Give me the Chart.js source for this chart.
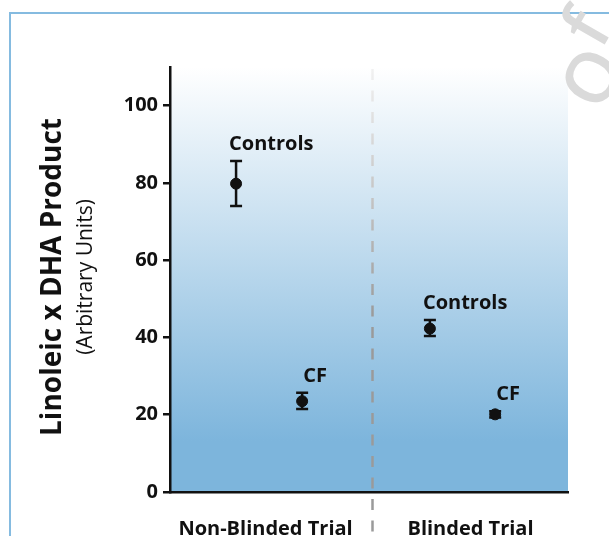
<!DOCTYPE html>
<html lang="en">
<head>
    <meta charset="UTF-8">
    <title>Linoleic x DHA Product</title>
    <style>
        html, body {margin: 0; padding: 0; background: #fff;}
        #myChart {display: block;}
    </style>
</head>
<body>
    <canvas id="myChart" width="609" height="536"></canvas>

    <script src="https://cdn.jsdelivr.net/npm/chart.js@4.4.0/dist/chart.umd.min.js"></script>
    <script>
        // data
        const trials = ['Non-Blinded Trial', 'Blinded Trial'];
        const trialPos = [2.4, 7.55];
        const groups = ['Controls', 'CF', 'Controls', 'CF'];
        const pointX = [1.66, 3.32, 6.53, 8.17];
        const means = [79.8, 23.5, 42.3, 20.1];
        const errLow = [74.0, 21.5, 40.4, 19.3];
        const errHigh = [85.7, 25.7, 44.5, 20.9];
        const dividerX = 5.08;
        const yTicks = [0, 20, 40, 60, 80, 100];

        const FONT = "'Open Sans', 'DejaVu Sans', sans-serif";

        // background gradient, frame and divider line
        const backdrop = {
            id: 'backdrop',
            beforeDraw(chart) {
                const {ctx, chartArea: a, scales} = chart;
                ctx.save();
                const g = ctx.createLinearGradient(0, a.top, 0, a.bottom);
                g.addColorStop(0, '#ffffff');
                g.addColorStop(0.88, '#7db5dc');
                g.addColorStop(1, '#7db5dc');
                ctx.fillStyle = g;
                ctx.fillRect(a.left, a.top, a.right - a.left, a.bottom - a.top);

                // frame
                ctx.strokeStyle = '#85bbe0';
                ctx.lineWidth = 2;
                ctx.beginPath();
                ctx.moveTo(10, 536);
                ctx.lineTo(10, 13);
                ctx.lineTo(609, 13);
                ctx.stroke();

                // dashed divider
                const x = Math.round(scales.x.getPixelForValue(dividerX)) + 0.5;
                const dg = ctx.createLinearGradient(0, a.top, 0, a.top + 250);
                dg.addColorStop(0, '#f2f2f2');
                dg.addColorStop(1, '#9a9a9a');
                ctx.strokeStyle = dg;
                ctx.lineWidth = 2.5;
                ctx.setLineDash([11, 10.5]);
                ctx.beginPath();
                ctx.moveTo(x, a.top + 2);
                ctx.lineTo(x, 536);
                ctx.stroke();
                ctx.setLineDash([]);

                // watermark letters, clipped at the right edge
                ctx.fillStyle = '#dadada';
                ctx.font = '600 70px ' + FONT;
                ctx.textAlign = 'center';
                ctx.textBaseline = 'middle';
                [['O', 596, 80], ['f', 590, 30]].forEach(([t, wx, wy]) => {
                    ctx.save();
                    ctx.translate(wx, wy);
                    ctx.rotate(-60 * Math.PI / 180);
                    ctx.fillText(t, 0, 0);
                    ctx.restore();
                });
                ctx.restore();

                // y axis title (two lines)
                ctx.save();
                ctx.translate(53, 277);
                ctx.rotate(-Math.PI / 2);
                ctx.fillStyle = '#111';
                ctx.textAlign = 'center';
                ctx.textBaseline = 'middle';
                ctx.font = 'bold 28px ' + FONT;
                ctx.fillText('Linoleic x DHA Product', 0, 0);
                ctx.font = '21px ' + FONT;
                ctx.fillText('(Arbitrary Units)', 0, 33);
                ctx.restore();
            }
        };

        // error bars under the points, group labels above
        const errorBars = {
            id: 'errorBars',
            beforeDatasetsDraw(chart) {
                const {ctx, scales: {x, y}} = chart;
                ctx.save();
                ctx.strokeStyle = '#111';
                ctx.lineWidth = 2.5;
                for (let i = 0; i < means.length; i++) {
                    const px = x.getPixelForValue(pointX[i]);
                    const top = y.getPixelForValue(errHigh[i]);
                    const bot = y.getPixelForValue(errLow[i]);
                    ctx.beginPath();
                    ctx.moveTo(px, top);
                    ctx.lineTo(px, bot);
                    ctx.moveTo(px - 6, top);
                    ctx.lineTo(px + 6, top);
                    ctx.moveTo(px - 6, bot);
                    ctx.lineTo(px + 6, bot);
                    ctx.stroke();
                }
                ctx.restore();
            },
            afterDatasetsDraw(chart) {
                const {ctx, scales: {x, y}} = chart;
                ctx.save();
                ctx.fillStyle = '#111';
                ctx.font = 'bold 20px ' + FONT;
                ctx.textAlign = 'left';
                ctx.textBaseline = 'alphabetic';
                for (let i = 0; i < groups.length; i++) {
                    const px = x.getPixelForValue(pointX[i]);
                    const top = y.getPixelForValue(errHigh[i]);
                    const dx = groups[i] === 'CF' ? 1 : -7;
                    ctx.fillText(groups[i], px + dx, top - 11);
                }
                ctx.restore();
            }
        };

        const ctx = document.getElementById('myChart').getContext('2d');

        const config = {
            type: 'scatter',
            plugins: [backdrop, errorBars],
            data: {
                datasets: [{
                    label: 'Linoleic x DHA Product',
                    data: pointX.map((v, i) => ({x: v, y: means[i]})),
                    backgroundColor: '#111',
                    borderColor: '#111',
                    pointRadius: 5.5,
                    pointHoverRadius: 5.5
                }]
            },
            options: {
                responsive: false,
                animation: false,
                layout: {padding: {left: 110, top: 67, right: 41, bottom: 0}},
                plugins: {
                    legend: {display: false},
                    tooltip: {enabled: false}
                },
                scales: {
                    x: {
                        type: 'linear',
                        min: 0,
                        max: 10,
                        afterBuildTicks: axis => {
                            axis.ticks = trialPos.map(v => ({value: v}));
                        },
                        afterFit: axis => { axis.height = 44; },
                        grid: {display: false, drawTicks: false},
                        border: {display: true, color: '#111', width: 2.5},
                        ticks: {
                            autoSkip: false,
                            maxRotation: 0,
                            padding: 25,
                            color: '#111',
                            font: {family: FONT, size: 20, weight: 'bold'},
                            callback: (v, i) => trials[i]
                        }
                    },
                    y: {
                        min: 0,
                        max: 110,
                        afterBuildTicks: axis => {
                            axis.ticks = yTicks.map(v => ({value: v}));
                        },
                        afterFit: axis => { axis.width = 60; },
                        grid: {
                            drawOnChartArea: false,
                            drawTicks: true,
                            tickLength: 7,
                            color: '#111',
                            lineWidth: 2.5
                        },
                        border: {display: true, color: '#111', width: 2.5},
                        ticks: {
                            padding: 5,
                            color: '#111',
                            font: {family: FONT, size: 20, weight: 'bold'}
                        }
                    }
                }
            }
        };

        const myChart = new Chart(ctx, config);
    </script>
</body>
</html>
